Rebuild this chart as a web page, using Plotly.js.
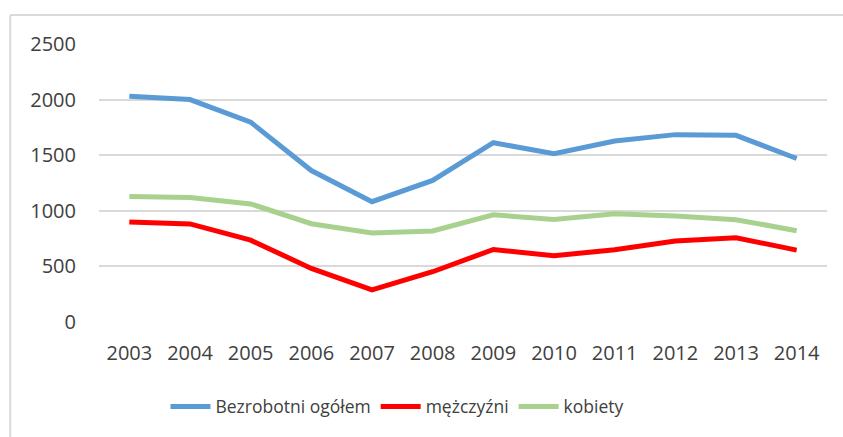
<!DOCTYPE html>
<html>
<head>
<meta charset="utf-8">
<script src="https://cdn.plot.ly/plotly-3.0.1.min.js"></script>
<style>html,body{margin:0;padding:0;background:#fff;}#chart{width:843px;height:437px;}</style>
</head>
<body>
<div id="chart"></div>
<script>
const years = ["2003","2004","2005","2006","2007","2008","2009","2010","2011","2012","2013","2014"];
const ogolem = [2030, 2000, 1797, 1362, 1082, 1273, 1612, 1513, 1627, 1685, 1679, 1470];
const mezczyzni = [900, 882, 736, 482, 288, 452, 652, 595, 650, 729, 758, 646];
const kobiety = [1128, 1119, 1062, 884, 801, 819, 964, 922, 973, 953, 920, 821];
const seriesNames = ["Bezrobotni ogółem", "mężczyźni", "kobiety"];
const yTicks = [0, 500, 1000, 1500, 2000, 2500];

const font = {family: "Open Sans, sans-serif", size: 20, color: "#404040"};

const traces = [
  {x: years, y: ogolem, name: seriesNames[0], type: "scatter", mode: "lines", line: {color: "#5B9BD5", width: 5}},
  {x: years, y: mezczyzni, name: seriesNames[1], type: "scatter", mode: "lines", line: {color: "#FF0000", width: 5}},
  {x: years, y: kobiety, name: seriesNames[2], type: "scatter", mode: "lines", line: {color: "#A9D18E", width: 5}}
];

const layout = {
  width: 843, height: 437,
  margin: {l: 99, r: 16, t: 44, b: 113},
  paper_bgcolor: "#fff", plot_bgcolor: "#fff",
  font: font,
  showlegend: true,
  legend: {orientation: "h", x: 0.41, xanchor: "center", y: -0.24, yanchor: "top", font: {family: "Open Sans, sans-serif", size: 17.5, color: "#404040"}, itemwidth: 40},
  xaxis: {type: "category", range: [-0.5, 11.5], showgrid: false, zeroline: false, showline: false, ticks: "", tickfont: font, ticklabelstandoff: 17, fixedrange: true},
  yaxis: {range: [0, 2500], tickvals: yTicks, ticktext: yTicks.map(String), showgrid: true, gridcolor: "#D9D9D9", gridwidth: 2, zeroline: false, showline: false, ticks: "", tickfont: font, ticklabelstandoff: 22, fixedrange: true},
  shapes: [
    {type: "line", xref: "paper", yref: "paper", x0: -0.122, x1: -0.122, y0: 1.104, y1: -0.5, line: {color: "#D9D9D9", width: 2}},
    {type: "line", xref: "paper", yref: "paper", x0: -0.122, x1: 1.1, y0: 1.104, y1: 1.104, line: {color: "#D9D9D9", width: 2}}
  ]
};

Plotly.newPlot("chart", traces, layout, {displayModeBar: false, staticPlot: true});
</script>
</body>
</html>
